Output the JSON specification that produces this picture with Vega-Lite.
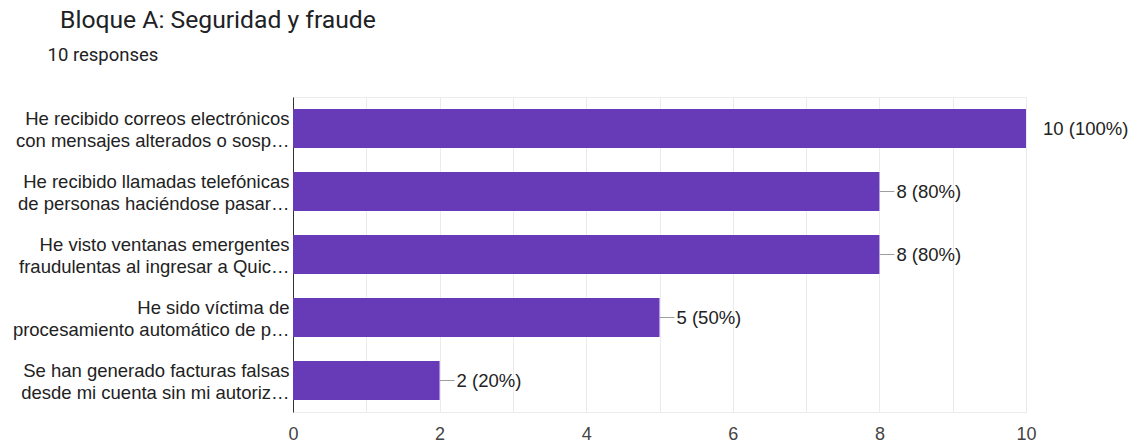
{
  "$schema": "https://vega.github.io/schema/vega-lite/v6.json",
  "width": 733,
  "height": 315,
  "autosize": {"type": "none"},
  "padding": {"left": 293, "top": 97, "right": 110, "bottom": 32},
  "background": "#ffffff",
  "title": {
    "text": "Bloque A: Seguridad y fraude",
    "anchor": "start",
    "frame": "group",
    "dx": -233,
    "font": "Roboto",
    "fontSize": 24.7,
    "fontWeight": "normal",
    "color": "#202124",
    "offset": 12
  },
  "config": {
    "view": {"stroke": "#ebebeb", "strokeWidth": 1},
    "font": "Liberation Sans"
  },
  "data": {
    "values": [
      {"item": "He recibido correos electrónicos|con mensajes alterados o sosp…", "count": 10, "label": "10 (100%)"},
      {"item": "He recibido llamadas telefónicas|de personas haciéndose pasar…", "count": 8, "label": "8 (80%)"},
      {"item": "He visto ventanas emergentes|fraudulentas al ingresar a Quic…", "count": 8, "label": "8 (80%)"},
      {"item": "He sido víctima de|procesamiento automático de p…", "count": 5, "label": "5 (50%)"},
      {"item": "Se han generado facturas falsas|desde mi cuenta sin mi autoriz…", "count": 2, "label": "2 (20%)"}
    ]
  },
  "encoding": {
    "y": {
      "field": "item",
      "type": "nominal",
      "sort": null,
      "scale": {"paddingInner": 0.38, "paddingOuter": 0.19},
      "axis": {
        "title": "10 responses",
        "titleAngle": 0,
        "titleX": -246,
        "titleY": -37,
        "titleAlign": "left",
        "titleBaseline": "alphabetic",
        "titleFont": "Roboto",
        "titleFontSize": 18.5,
        "titleFontWeight": "normal",
        "titleColor": "#202124",
        "labelExpr": "split(datum.value, '|')",
        "labelFont": "Liberation Sans",
        "labelFontSize": 18.5,
        "labelColor": "#222222",
        "labelLineHeight": 22,
        "labelOffset": -10,
        "labelLimit": 320,
        "labelPadding": 4,
        "ticks": false,
        "domainColor": "#333333",
        "domainWidth": 1,
        "grid": false
      }
    }
  },
  "layer": [
    {
      "mark": {"type": "bar", "color": "#673ab7"},
      "encoding": {
        "x": {
          "field": "count",
          "type": "quantitative",
          "scale": {"domain": [0, 10]},
          "axis": {
            "title": null,
            "values": [0, 1, 2, 3, 4, 5, 6, 7, 8, 9, 10],
            "format": "d",
            "labelExpr": "datum.value % 2 == 0 ? datum.label : ''",
            "labelFlush": false,
            "labelFont": "Liberation Sans",
            "labelFontSize": 18,
            "labelColor": "#444444",
            "labelPadding": 13,
            "ticks": false,
            "domain": false,
            "gridColor": "#ebebeb",
            "gridWidth": 1
          }
        }
      }
    },
    {
      "transform": [{"filter": "datum.count < 10"}],
      "mark": {"type": "rule", "color": "#9e9e9e", "strokeWidth": 1, "x2Offset": 15},
      "encoding": {
        "x": {"field": "count", "type": "quantitative"},
        "x2": {"field": "count"}
      }
    },
    {
      "mark": {"type": "text", "align": "left", "baseline": "middle", "dx": 17, "font": "Liberation Sans", "fontSize": 18.5, "color": "#222222"},
      "encoding": {
        "x": {"field": "count", "type": "quantitative"},
        "text": {"field": "label"}
      }
    }
  ]
}
